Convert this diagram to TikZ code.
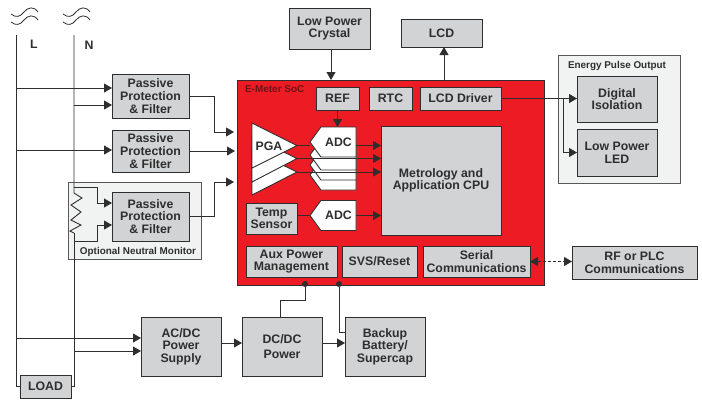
\documentclass[tikz,border=0pt]{standalone}
\usepackage{fontspec}
\setmainfont{Liberation Sans}
\usetikzlibrary{arrows.meta, positioning, shapes.symbols}
\definecolor{boxgray}{HTML}{D1D3D4}
\definecolor{panelgray}{HTML}{F1F2F2}
\definecolor{socred}{HTML}{ED1C24}
\definecolor{inkdark}{HTML}{2E2E2E}
\definecolor{socink}{HTML}{6D1418}

\begin{document}
\begin{tikzpicture}[
      x=1pt, y=-1pt,
      line width=.9pt,
      every node/.style={text=inkdark, outer sep=0pt, inner sep=0pt},
      blk/.style={rectangle, draw=inkdark, fill=boxgray, align=center,
        font=\fontsize{12.3}{12.6}\selectfont\bfseries},
      panel/.style={rectangle, draw=inkdark!80, fill=panelgray},
      caption/.style={font=\fontsize{9.9}{11}\selectfont\bfseries},
      wire/.style={draw=inkdark},
      edge/.style={draw=inkdark, -{Triangle[length=8pt, width=9pt]}},
      adcbox/.style={signal, signal to=west, signal pointer angle=108, draw=inkdark, fill=white,
        minimum width=46pt, minimum height=30pt, font=\fontsize{12.3}{12.6}\selectfont\bfseries},
      pgatri/.style={draw=inkdark, fill=white},
      junction/.style={circle, fill=inkdark, minimum size=6pt}
    ]
    \useasboundingbox (0,0) rectangle (702,400);

    \foreach \xoff in {0,52}
      \foreach \yoff in {0,8}
        \draw[inkdark, line width=.8pt, shift={(\xoff,\yoff)}] (11,14) .. controls (16,18) and (20,17) .. (24,12) .. controls (28,7) and (34,6) .. (38,12);

    \node[font=\fontsize{12.3}{13}\selectfont\bfseries] (labell) at (34,44) {L};
    \node[font=\fontsize{12.3}{13}\selectfont\bfseries] (labeln) at (89,45) {N};

    \node[panel, minimum width=133pt, minimum height=77pt] (optional) at (134.5,220.5) {};
    \node[caption, anchor=south] (optionaltext) at (138,256.5) {Optional Neutral Monitor};

    \node[blk, minimum width=51pt, minimum height=23pt] (load) at (45.5,386.5) {LOAD};
    \coordinate (ltop) at (16,35);
    \coordinate (ntop) at (74,35);
    \coordinate (rtop) at (74,193);
    \coordinate (rbot) at (74,233);
    \coordinate (ltap1) at (16,88);
    \coordinate (ntap1) at (74,105);
    \coordinate (ltap2) at (16,150);
    \coordinate (ntap2) at (74,187);
    \coordinate (ntap3) at (74,241);
    \coordinate (ltap3) at (16,338);
    \coordinate (ntap4) at (74,351);

    \draw[wire] (ltop) |- (load.west);
    \draw[wire] (ntop) -- (rtop) -- (82,198) -- (71,205) -- (81,212) -- (71,220) -- (81,225) -- (70,231) -- (rbot);
    \draw[wire] (rbot) |- (load.east);

    \node[blk, minimum width=77pt, minimum height=44pt] (prot1) at (150.5,96) {Passive\\Protection\\\& Filter};
    \node[blk, minimum width=77pt, minimum height=42pt, below=12pt of prot1] (prot2) {Passive\\Protection\\\& Filter};
    \node[blk, minimum width=77pt, minimum height=49pt, below=20pt of prot2] (prot3) {Passive\\Protection\\\& Filter};

    \node[rectangle, draw=inkdark, fill=socred, minimum width=307pt, minimum height=205pt] (soc) at (390.5,182.5) {};
    \node[anchor=west, text=socink, font=\fontsize{10}{11}\selectfont\bfseries] (soctitle) at (245,89) {E-Meter SoC};

    \node[blk, minimum width=43pt, minimum height=23pt] (ref) at (337.5,98.5) {REF};
    \node[blk, minimum width=43pt, minimum height=23pt, right=10pt of ref] (rtc) {RTC};
    \node[blk, minimum width=81pt, minimum height=23pt, right=8pt of rtc] (lcddrv) {LCD Driver};
    \node[blk, minimum width=120pt, minimum height=109pt] (cpu) at (441,180.5) {Metrology and\\Application CPU};
    \node[blk, minimum width=51pt, minimum height=31pt] (temp) at (271.5,218.5) {Temp\\Sensor};
    \node[blk, minimum width=91pt, minimum height=31pt] (aux) at (291.5,261.5) {Aux Power\\Management};
    \node[blk, minimum width=75pt, minimum height=31pt, right=5pt of aux] (svs) {SVS/Reset};
    \node[blk, minimum width=107pt, minimum height=31pt, right=6pt of svs] (serial) {Serial\\Communications};

    \draw[pgatri] (252,150) -- (297,172) -- (252,195) -- cycle;
    \draw[pgatri] (252,136.5) -- (297,158.5) -- (252,182) -- cycle;
    \draw[pgatri] (252,123) -- (297,145.5) -- (252,168) -- cycle;
    \node[font=\fontsize{12.3}{12.6}\selectfont\bfseries] (pga) at (269,146) {PGA};
    \coordinate (pga1) at (297,145.5);
    \coordinate (pga2) at (297,158.5);
    \coordinate (pga3) at (297,172);

    \node[adcbox, anchor=east] (adc4) at (356,175) {};
    \node[adcbox, anchor=east] (adc3) at (356,165) {};
    \node[adcbox, anchor=east] (adc2) at (356,155) {};
    \node[adcbox, anchor=east] (adc1) at (356,142) {ADC\hspace{6pt}};
    \node[adcbox, anchor=east] (adc5) at (356,215.5) {ADC\hspace{6pt}};

    \draw[wire] (pga1) -- (adc1.west |- pga1);
    \draw[edge] (adc1.east |- pga1) -- (cpu.west |- pga1);
    \draw[edge] (pga2) -- (cpu.west |- pga2);
    \draw[edge] (pga3) -- (cpu.west |- pga3);
    \draw[wire] (temp.east |- adc5.west) -- (adc5.west);
    \draw[edge] (adc5.east) -- (cpu.west |- adc5.east);
    \draw[edge] (ref.south) -- (ref.south |- adc1.north);

    \node[blk, minimum width=81pt, minimum height=41pt] (crystal) at (329.5,28.5) {Low Power\\Crystal};
    \node[blk, minimum width=81pt, minimum height=28pt] (lcd) at (441.5,33) {LCD};
    \coordinate (crystalin) at (331,80);
    \coordinate (lcdout) at (444,80);
    \draw[edge] (crystalin |- crystal.south) -- (crystalin);
    \draw[edge] (lcdout) -- (lcdout |- lcd.south);

    \node[panel, minimum width=122pt, minimum height=128pt] (energy) at (619,119) {};
    \node[caption, anchor=south] (energytext) at (617,70.5) {Energy Pulse Output};
    \node[blk, minimum width=80pt, minimum height=46pt] (digital) at (617,99) {Digital\\Isolation};
    \node[blk, minimum width=80pt, minimum height=47pt, below=7pt of digital] (led) {Low Power\\LED};
    \coordinate (split) at (563,98.5);
    \draw[edge] (lcddrv.east) -- (digital.west |- lcddrv.east);
    \draw[edge] (split) |- (led.west);

    \node[blk, minimum width=125pt, minimum height=33pt] (rfplc) at (634.5,262.5) {RF or PLC\\Communications};
    \draw[draw=inkdark, densely dashed, {Triangle[length=8pt, width=9pt]}-{Triangle[length=8pt, width=9pt]}] (serial.east) -- (rfplc.west |- serial.east);

    \node[blk, minimum width=80pt, minimum height=59pt] (acdc) at (181,346.5) {AC/DC\\Power\\Supply};
    \node[blk, minimum width=80pt, minimum height=59pt] (dcdc) at (282,346.5) {DC/DC\\[2.5pt]Power};
    \node[blk, minimum width=80pt, minimum height=59pt] (backup) at (385,346.5) {Backup\\Battery/\\Supercap};
    \coordinate (dcdcout) at (280,317);

    \draw[edge] (ltap1) -- (ltap1 -| prot1.west);
    \draw[edge] (ntap1) -- (ntap1 -| prot1.west);
    \draw[edge] (ltap2) -- (ltap2 -| prot2.west);
    \draw[edge] (ntap2) -| (97,203) -- (prot3.west |- 97,203);
    \draw[edge] (ntap3) -| (97,225) -- (prot3.west |- 97,225);
    \draw[edge] (ltap3) -- (ltap3 -| acdc.west);
    \draw[edge] (ntap4) -- (ntap4 -| acdc.west);

    \coordinate (socin1) at (234,132);
    \coordinate (socin2) at (235,151);
    \coordinate (socin3) at (234,182);
    \draw[edge] (prot1.east) -- ++(25,0) |- (socin1);
    \draw[edge] (prot2.east) -- (socin2);
    \draw[edge] (prot3.east) -- ++(25,0) |- (socin3);

    \draw[edge] ([yshift=3.5pt]acdc.east) -- ([yshift=3.5pt]dcdc.west);
    \draw[edge] ([yshift=3.5pt]dcdc.east) -- ([yshift=3.5pt]backup.west);
    \node[junction] (dot1) at (305,284) {};
    \node[junction] (dot2) at (339,284) {};
    \draw[wire] (dcdcout) -- ++(0,-17) -| (dot1);
    \draw[wire] (dot2) |- ([yshift=14.5pt]backup.west);
    \end{tikzpicture}
\end{document}
